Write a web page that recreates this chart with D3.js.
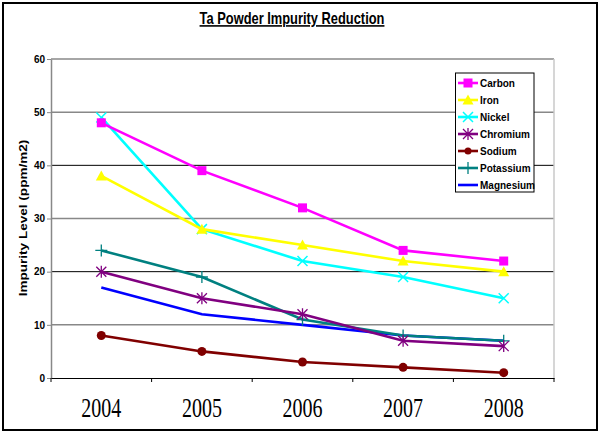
<!DOCTYPE html>
<html><head><meta charset="utf-8">
<script src="https://cdn.jsdelivr.net/npm/d3@7"></script>
<style>body{margin:0;background:#fff}svg{display:block}</style>
</head><body>
<svg id="c" width="600" height="432"></svg>
<script>
const years = ["2004","2005","2006","2007","2008"];
const yTicks = [0,10,20,30,40,50,60];
const seriesNames = ["Carbon","Iron","Nickel","Chromium","Sodium","Potassium","Magnesium"];
const carbon = [48,39,32,24,22];
const iron = [38,28,25,22,20];
const nickel = [49,28,22,19,15];
const chromium = [20,15,12,7,6];
const sodium = [8,5,3,2,1];
const potassium = [24,19,11,8,7];
const magnesium = [17,12,10,8,7];
const seriesValues = [carbon,iron,nickel,chromium,sodium,potassium,magnesium];
const colors = ["#ff00ff","#ffff00","#00ffff","#800080","#800000","#008080","#0000ff"];
const markers = ["square","triangle","x","star","circle","plus","none"];

const svg = d3.select("#c");
const L=51,R=554,T=59,B=378;
const x = d3.scaleBand().domain(years).range([L,R]);
const y = d3.scaleLinear().domain([0,60]).range([B,T]);

svg.append("rect").attr("x",3).attr("y",3).attr("width",594).attr("height",427)
  .attr("fill","none").attr("stroke","#000").attr("stroke-width",2);

// title
svg.append("text").attr("transform","translate(292,24) scale(0.92,1.15)")
  .attr("text-anchor","middle").attr("font-family","Liberation Sans, Arial").attr("font-weight","bold")
  .attr("font-size",14).attr("text-decoration","underline").text("Ta Powder Impurity Reduction");

// gridlines
yTicks.forEach(v=>{
  if(v===0) return;
  svg.append("line").attr("x1",L).attr("x2",R).attr("y1",y(v)).attr("y2",y(v))
    .attr("stroke",(v===20||v===40)?"#000":"#888").attr("stroke-width",(v===20||v===40)?1:1.5);
});
svg.append("line").attr("x1",R).attr("x2",R).attr("y1",T).attr("y2",B).attr("stroke","#c8c8c8").attr("stroke-width",1.5);

// y axis
const ya = svg.append("g").attr("transform",`translate(${L},0)`)
  .call(d3.axisLeft(y).tickValues(yTicks).tickSize(4).tickSizeOuter(0));
ya.select(".domain").attr("stroke","#888").attr("stroke-width",1.5);
ya.selectAll(".tick line").attr("stroke","#888");
ya.selectAll("text").attr("font-family","Liberation Sans, Arial").attr("font-weight","bold").attr("font-size",10).attr("fill","#000").attr("x",-6);

// x axis
const xa = svg.append("g").attr("transform",`translate(0,${B})`)
  .call(d3.axisBottom(x).tickSize(0).tickSizeOuter(0));
xa.select(".domain").attr("stroke","#000").attr("stroke-width",1.2);
xa.selectAll(".tick text").remove();
const bounds = [L].concat(years.map(d=>x(d)+x.bandwidth()));
bounds.forEach(b=>{
  svg.append("line").attr("x1",b).attr("x2",b).attr("y1",B).attr("y2",B+4).attr("stroke","#000");
});
years.forEach(d=>{
  svg.append("text").attr("transform",`translate(${x(d)+x.bandwidth()/2},417) scale(1,1.38)`)
    .attr("text-anchor","middle").attr("font-family","Liberation Serif, Times New Roman").attr("font-size",20).text(d);
});

// y title
svg.append("text").attr("transform","translate(27,218) rotate(-90) scale(1.18,1)")
  .attr("text-anchor","middle").attr("font-family","Liberation Sans, Arial").attr("font-weight","bold")
  .attr("font-size",11.5).text("Impurity Level (ppm/m2)");

function drawMarker(g,type,cx,cy,col,s){
  if(type==="square") g.append("rect").attr("x",cx-4.5).attr("y",cy-4.5).attr("width",9).attr("height",9).attr("fill",col);
  else if(type==="triangle") g.append("path").attr("d",`M${cx},${cy-5.5}L${cx+5.5},${cy+4.5}L${cx-5.5},${cy+4.5}Z`).attr("fill",col);
  else if(type==="circle") g.append("circle").attr("cx",cx).attr("cy",cy).attr("r",s||4.5).attr("fill",col);
  else if(type==="x") g.append("path").attr("d",`M${cx-5},${cy-5}L${cx+5},${cy+5}M${cx-5},${cy+5}L${cx+5},${cy-5}`).attr("stroke",col).attr("stroke-width",1.5);
  else if(type==="star") g.append("path").attr("d",`M${cx-5},${cy-5}L${cx+5},${cy+5}M${cx-5},${cy+5}L${cx+5},${cy-5}M${cx},${cy-6}L${cx},${cy+6}`).attr("stroke",col).attr("stroke-width",1.3);
  else if(type==="plus") g.append("path").attr("d",`M${cx-6},${cy}L${cx+6},${cy}M${cx},${cy-6}L${cx},${cy+6}`).attr("stroke",col).attr("stroke-width",1.3);
}

const line = d3.line().x((d,i)=>x(years[i])+x.bandwidth()/2).y(d=>y(d));
const order = [6,5,4,3,2,1,0];
order.forEach(k=>{
  const g = svg.append("g");
  g.append("path").attr("d",line(seriesValues[k])).attr("fill","none").attr("stroke",colors[k]).attr("stroke-width",2.6);
  seriesValues[k].forEach((v,i)=>drawMarker(g,markers[k],x(years[i])+x.bandwidth()/2,y(v),colors[k]));
});

// legend
const lg = svg.append("g");
lg.append("rect").attr("x",455.5).attr("y",73).attr("width",78.5).attr("height",119).attr("fill","#fff").attr("stroke","#000").attr("stroke-width",1);
seriesNames.forEach((n,i)=>{
  const ly = 83 + i*17;
  lg.append("line").attr("x1",458).attr("x2",478).attr("y1",ly).attr("y2",ly).attr("stroke",colors[i]).attr("stroke-width",2.6);
  drawMarker(lg,markers[i],468,ly,colors[i],3.5);
  lg.append("text").attr("transform",`translate(480,${ly+4}) scale(1,1.12)`).attr("font-family","Liberation Sans, Arial").attr("font-weight","bold").attr("font-size",10).text(n);
});
</script>
</body></html>
